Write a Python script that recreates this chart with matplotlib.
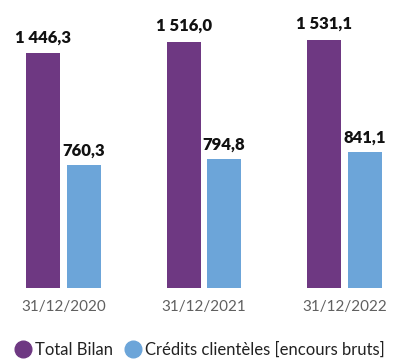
import matplotlib
matplotlib.use("Agg")
import matplotlib.pyplot as plt
from matplotlib.lines import Line2D
import numpy as np

categories = ["31/12/2020", "31/12/2021", "31/12/2022"]
total_bilan = [1446.3, 1516.0, 1531.1]
credits_clientele = [760.3, 794.8, 841.1]
series_names = ["Total Bilan", "Crédits clientèles [encours bruts]"]
purple = "#6E3882"
blue = "#6CA5D9"

W, H = 394, 360
fig = plt.figure(figsize=(W / 100, H / 100), dpi=100)
ax_bottom_px = H - 288
ax = fig.add_axes([0, ax_bottom_px / H, 1, 288 / H])

def fmt(v):
    s = f"{v:,.1f}"
    return s.replace(",", " ").replace(".", ",")

x = np.arange(len(categories))
px_per_unit = 140.6
bw = 34 / px_per_unit
off = 20.25 / px_per_unit
ax.bar(x - off, total_bilan, width=bw, color=purple)
ax.bar(x + off, credits_clientele, width=bw, color=blue)
ax.set_xlim(-63.3 / px_per_unit, (W - 63.3) / px_per_unit)
ax.set_ylim(0, 288 / 0.1622)

font = "Lato"
for xi, v in zip(x - off, total_bilan):
    ax.annotate(fmt(v), (xi, v), xytext=(0, 11), textcoords="offset pixels",
                ha="center", va="baseline", fontsize=12, fontweight="heavy",
                family=font, color="#111111")
for xi, v in zip(x + off, credits_clientele):
    ax.annotate(fmt(v), (xi, v), xytext=(0, 9), textcoords="offset pixels",
                ha="center", va="baseline", fontsize=12, fontweight="heavy",
                family=font, color="#111111")

ax.set_xticks(x)
ax.set_xticklabels(categories, fontsize=11, family=font, color="#606060")
ax.tick_params(axis="x", length=0, pad=9)
ax.set_yticks([])
for s in ax.spines.values():
    s.set_visible(False)

handles = [Line2D([], [], marker="o", linestyle="", markersize=12, color=purple),
           Line2D([], [], marker="o", linestyle="", markersize=12, color=blue)]
fig.legend(handles, series_names, loc="center", bbox_to_anchor=(0.505, 1 - 350 / H),
           ncol=2, frameon=False, prop={"family": font, "size": 12},
           handletextpad=0.1, columnspacing=0.6, handlelength=1.2, borderpad=0,
           labelcolor="#222222")

fig.savefig("out.png", dpi=100)
